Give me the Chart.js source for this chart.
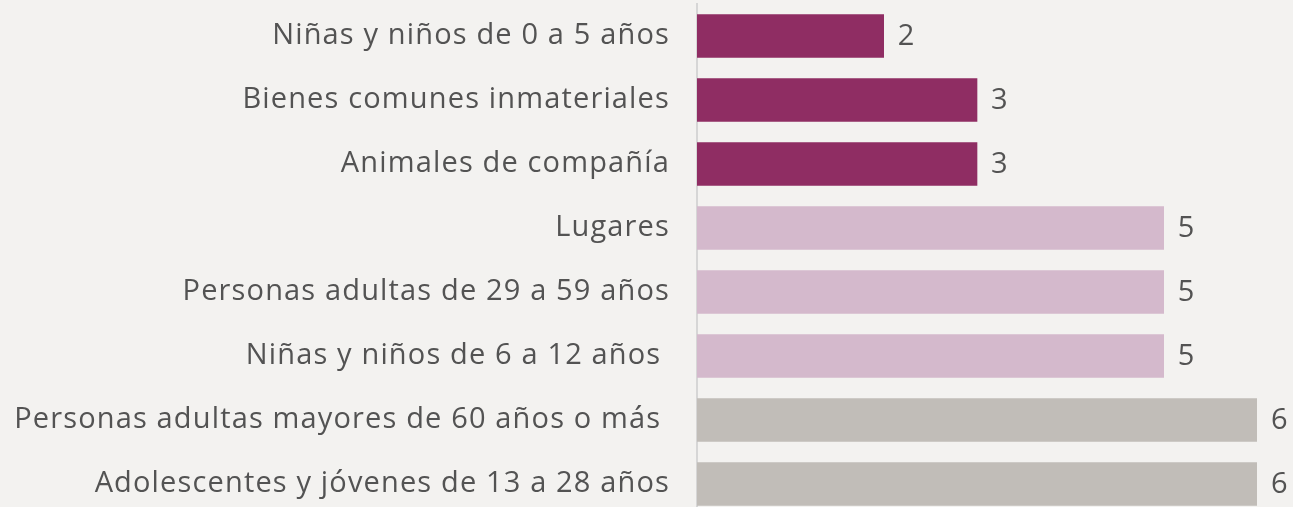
<!DOCTYPE html>
<html>
<head>
<meta charset="utf-8">
<script src="https://cdn.jsdelivr.net/npm/chart.js@4.4.1/dist/chart.umd.min.js"></script>
<style>
  html, body { margin: 0; padding: 0; overflow: hidden; background: #f3f2f0; }
</style>
</head>
<body>
<canvas id="chart" width="1293" height="516"></canvas>
<script>
// categories, top to bottom
const categories = [
  "Niñas y niños de 0 a 5 años",
  "Bienes comunes inmateriales",
  "Animales de compañía",
  "Lugares",
  "Personas adultas de 29 a 59 años",
  "Niñas y niños de 6 a 12 años ",
  "Personas adultas mayores de 60 años o más ",
  "Adolescentes y jóvenes de 13 a 28 años"
];
const values = [2, 3, 3, 5, 5, 5, 6, 6];
const barColors = [
  "#8f2d63", "#8f2d63", "#8f2d63",
  "#d4b9cc", "#d4b9cc", "#d4b9cc",
  "#c1bdb8", "#c1bdb8"
];

const FONT = "'Open Sans', sans-serif";
const TEXT = "#535353";
const SPACING = "1.15px";

// spacing between letters, like the original type
const spacing = {
  id: "spacing",
  beforeDraw(chart) { chart.ctx.letterSpacing = SPACING; }
};

// numbers after each bar
const valueLabels = {
  id: "valueLabels",
  afterDatasetsDraw(chart) {
    const ctx = chart.ctx;
    const meta = chart.getDatasetMeta(0);
    ctx.save();
    ctx.letterSpacing = SPACING;
    ctx.font = "29px " + FONT;
    ctx.fillStyle = TEXT;
    ctx.textAlign = "left";
    ctx.textBaseline = "middle";
    meta.data.forEach((bar, i) => {
      ctx.fillText(String(values[i]), bar.x + 14, bar.y + 1);
    });
    ctx.restore();
  }
};

new Chart(document.getElementById("chart"), {
  type: "bar",
  data: {
    labels: categories,
    datasets: [{
      data: values,
      backgroundColor: barColors,
      borderWidth: 0,
      barThickness: 43
    }]
  },
  options: {
    indexAxis: "y",
    responsive: false,
    animation: false,
    layout: { padding: { top: 4, right: 36, bottom: 0, left: 0 } },
    plugins: { legend: { display: false }, tooltip: { enabled: false } },
    scales: {
      x: { display: false, min: 0, max: 6 },
      y: {
        afterFit(scale) {
          scale.width = 697;
          scale.paddingTop = 0;
          scale.paddingBottom = 0;
        },
        grid: { display: false, drawTicks: false },
        border: { display: true, color: "#d6d6d6", width: 2 },
        ticks: {
          padding: 27,
          color: TEXT,
          font: { family: FONT, size: 29 }
        }
      }
    }
  },
  plugins: [spacing, valueLabels]
});
</script>
</body>
</html>
